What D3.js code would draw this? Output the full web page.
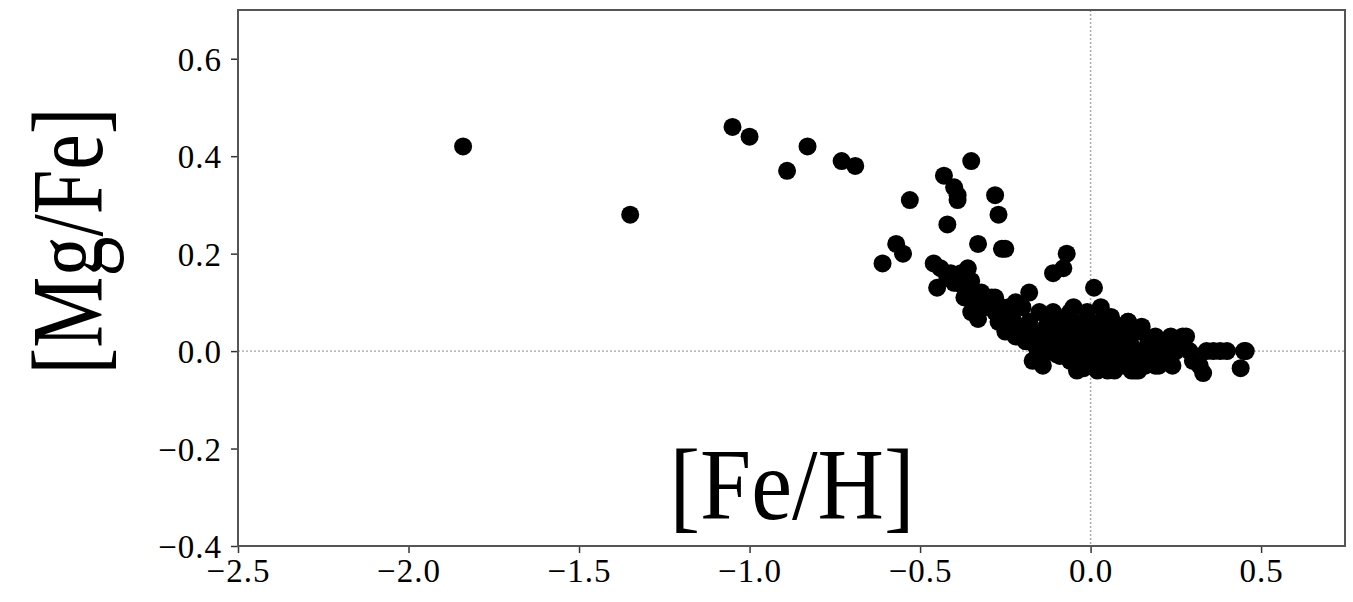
<!DOCTYPE html>
<html><head><meta charset="utf-8">
<script src="https://cdn.jsdelivr.net/npm/d3@7"></script>
<style>body{margin:0;background:#fff}svg{display:block}</style>
</head><body>
<svg id="c" width="1353" height="602"></svg>
<script>
const xTicks = [-2.5, -2.0, -1.5, -1.0, -0.5, 0.0, 0.5];
const yTicks = [-0.4, -0.2, 0.0, 0.2, 0.4, 0.6];
const feH = [
 -1.84,-1.35,-1.05,-1.00,-0.83,-0.89,-0.73,-0.69,-0.53,-0.61,-0.57,-0.55,
 -0.35,-0.43,-0.40,-0.39,-0.39,-0.28,-0.27,-0.42,-0.33,-0.26,-0.25,-0.46,-0.45,
 -0.07,-0.08,-0.11,0.01,-0.41,-0.36,-0.39,-0.35,-0.32,-0.37,-0.35,-0.33,-0.28,-0.24,-0.18,
 -0.24,-0.20,-0.155,-0.11,-0.05,-0.10,-0.02,
 0.03,0.11,0.15,0.235,0.28,0.34,0.40,0.455,0.44,0.33,
 -0.44,-0.42,-0.40,-0.38,-0.37,-0.36,-0.34,-0.33,-0.31,-0.29,-0.27,-0.26,-0.24,-0.22,
 -0.30,-0.28,-0.26,-0.25,-0.23,-0.22,-0.21,-0.20,-0.19,-0.18,-0.17,-0.16,-0.15,-0.14,-0.13,
 -0.12,-0.12,-0.11,-0.10,-0.09,-0.08,-0.08,-0.07,-0.06,-0.06,-0.05,-0.05,-0.04,-0.03,-0.03,
 -0.02,-0.02,-0.01,0.00,0.00,0.00,0.01,0.02,0.02,0.03,0.04,0.04,0.05,0.06,0.07,0.07,0.08,
 0.09,0.10,0.10,0.11,0.12,0.13,0.13,0.14,0.15,0.16,0.17,0.18,0.19,0.20,0.21,0.22,0.23,0.24,
 0.25,0.26,0.27,0.29,0.30,0.32,0.36,0.38,0.45,
 -0.17,-0.14,-0.09,-0.04,-0.01,0.02,0.05,0.08,0.12,0.06,-0.06,-0.13,0.09,0.14,0.19,0.03
];
const mgFe = [
 0.42,0.28,0.46,0.44,0.42,0.37,0.39,0.38,0.31,0.18,0.22,0.20,
 0.39,0.36,0.336,0.32,0.31,0.32,0.28,0.26,0.22,0.21,0.21,0.18,0.13,
 0.20,0.17,0.16,0.13,0.16,0.17,0.14,0.144,0.12,0.11,0.08,0.066,0.11,0.09,0.12,
 0.05,0.027,0.00,0.08,0.09,-0.006,-0.035,
 0.06,0.06,0.05,0.03,0.03,0.00,0.00,0.00,-0.035,-0.045,
 0.17,0.15,0.14,0.16,0.13,0.12,0.10,0.12,0.09,0.11,0.06,0.09,0.05,0.10,
 0.10,0.08,0.06,0.04,0.07,0.03,0.05,0.09,0.02,0.06,0.04,0.01,0.08,0.03,0.05,
 0.00,0.07,0.02,0.04,-0.01,0.06,0.01,0.03,-0.02,0.08,0.00,0.05,0.02,-0.03,0.04,
 0.00,0.06,-0.02,0.02,0.05,-0.03,0.00,0.03,-0.02,0.06,0.01,-0.03,0.04,-0.01,0.02,-0.04,0.05,
 0.00,-0.03,0.03,0.06,0.01,-0.02,-0.04,0.04,0.00,-0.03,0.02,-0.01,0.03,-0.03,0.00,-0.02,0.02,-0.03,
 0.00,0.02,0.03,0.00,-0.02,-0.03,0.00,0.00,0.00,
 -0.02,-0.03,0.03,-0.04,0.08,-0.04,-0.04,-0.02,-0.04,0.07,0.04,0.01,-0.02,-0.04,-0.03,0.09
];

const svg = d3.select('#c');
const L = 238, R = 1345, T = 10, B = 546;
const x = d3.scaleLinear().domain([-2.5, 0.746]).range([L, R]);
const y = d3.scaleLinear().domain([-0.4, 0.7]).range([B, T]);
const font = "'Liberation Serif','DejaVu Serif',serif";

// reference lines
svg.append('line').attr('x1', x(0)).attr('x2', x(0)).attr('y1', T).attr('y2', B)
  .attr('stroke', '#aaa').attr('stroke-width', 1.5).attr('stroke-dasharray', '2,2');
svg.append('line').attr('x1', L).attr('x2', R).attr('y1', y(0)).attr('y2', y(0))
  .attr('stroke', '#888').attr('stroke-width', 1).attr('stroke-dasharray', '2,2');

// points
svg.append('g').selectAll('circle').data(feH.map((d, i) => [d, mgFe[i]])).join('circle')
  .attr('cx', d => x(d[0])).attr('cy', d => y(d[1])).attr('r', 9).attr('fill', '#000');

// axes
const fmt = d => (d < 0 ? '\u2212' : '') + Math.abs(d).toFixed(1);
const gx = svg.append('g').attr('transform', `translate(0,${B})`)
  .call(d3.axisBottom(x).tickValues(xTicks).tickFormat(fmt).tickSize(7).tickPadding(6));
const gy = svg.append('g').attr('transform', `translate(${L},0)`)
  .call(d3.axisLeft(y).tickValues(yTicks).tickFormat(fmt).tickSize(7).tickPadding(9));
[gx, gy].forEach(g => {
  g.select('.domain').remove();
  g.selectAll('line').attr('stroke', '#333').attr('stroke-width', 1.5);
  g.selectAll('text').attr('font-family', font).attr('font-size', 33).attr('fill', '#000')
    .attr('letter-spacing', 1);
});
gy.selectAll('text').attr('dy', '0.35em');

// frame
svg.append('rect').attr('x', L).attr('y', T).attr('width', R - L).attr('height', B - T)
  .attr('fill', 'none').attr('stroke', '#555').attr('stroke-width', 2);

// axis labels
svg.append('text').attr('x', 792).attr('y', 519).attr('text-anchor', 'middle')
  .attr('font-family', font).attr('font-size', 102).attr('fill', '#000')
  .attr('textLength', 245).attr('lengthAdjust', 'spacingAndGlyphs').text('[Fe/H]');
svg.append('text').attr('transform', 'translate(102,241) rotate(-90)').attr('text-anchor', 'middle')
  .attr('font-family', font).attr('font-size', 102).attr('fill', '#000')
  .attr('textLength', 267).attr('lengthAdjust', 'spacingAndGlyphs').text('[Mg/Fe]');
</script>
</body></html>
